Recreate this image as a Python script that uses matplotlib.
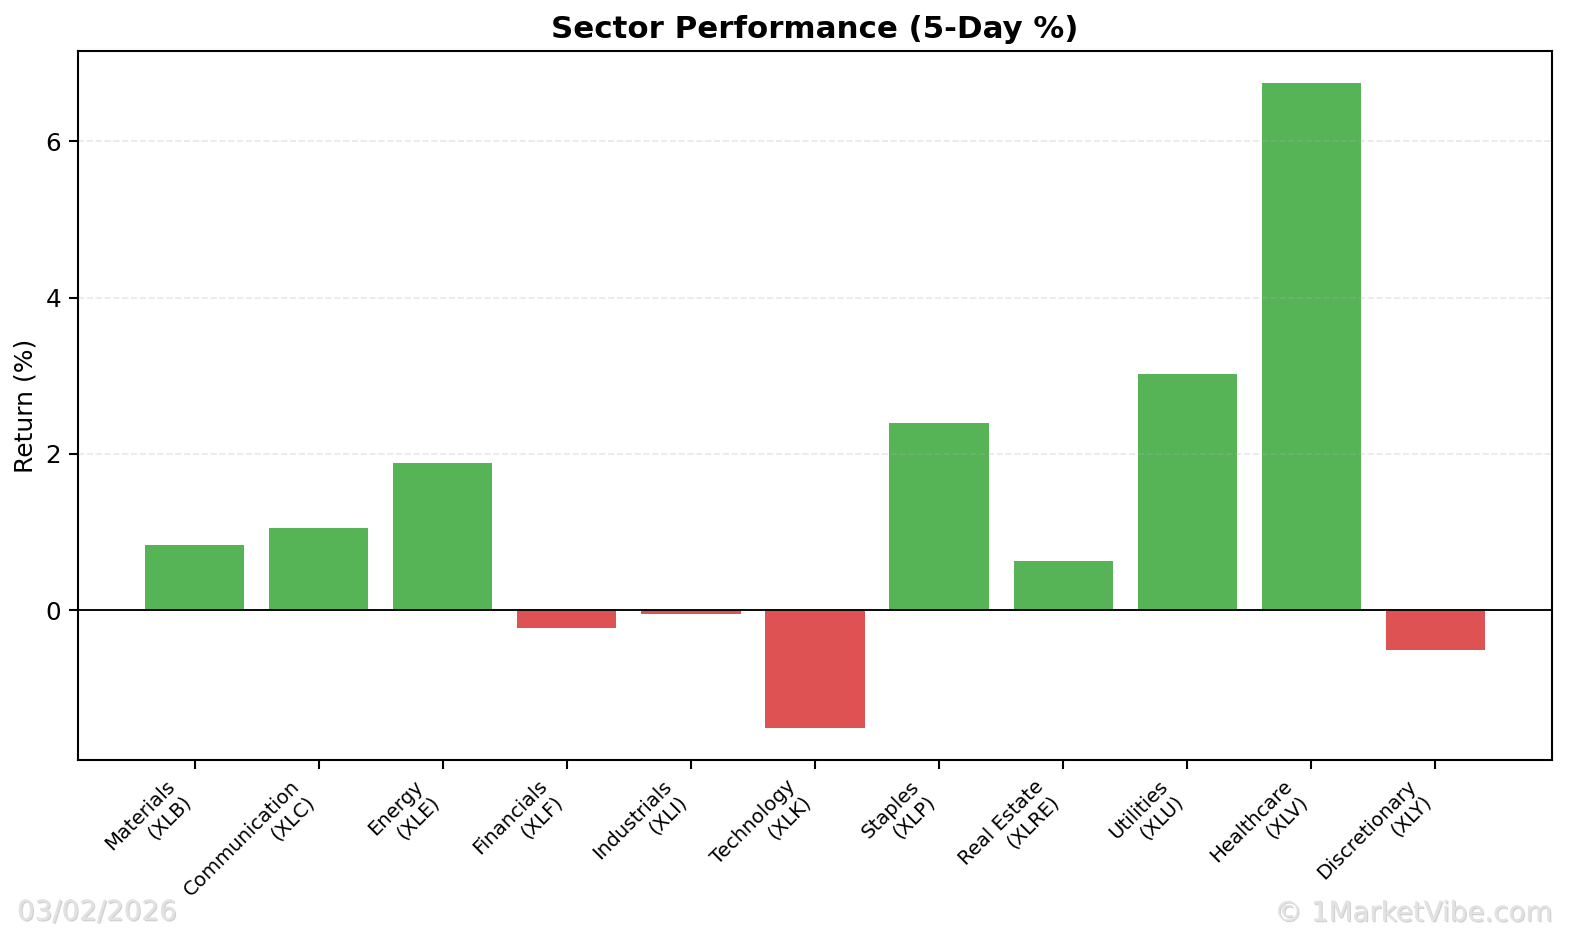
import matplotlib
matplotlib.use("Agg")
import matplotlib.pyplot as plt
import matplotlib.patheffects as pe

sectors = ["Materials\n(XLB)", "Communication\n(XLC)", "Energy\n(XLE)", "Financials\n(XLF)",
           "Industrials\n(XLI)", "Technology\n(XLK)", "Staples\n(XLP)", "Real Estate\n(XLRE)",
           "Utilities\n(XLU)", "Healthcare\n(XLV)", "Discretionary\n(XLY)"]
returns = [0.84, 1.06, 1.89, -0.22, -0.04, -1.50, 2.40, 0.63, 3.02, 6.74, -0.50]

fig = plt.figure(figsize=(10.56, 940 / 150), dpi=150)
ax = fig.add_axes([78 / 1584, 180 / 940, (1552 - 78) / 1584, (760 - 51) / 940])

colors = ["tab:green" if v >= 0 else "tab:red" for v in returns]
x = list(range(len(sectors)))
ax.bar(x, returns, color=colors, alpha=0.8, width=0.8)
ax.axhline(0, color="black", linewidth=0.9)
ax.grid(axis="y", linestyle="--", alpha=0.3)
ax.set_xticks(x)
ax.set_xticklabels(sectors, rotation=45, ha="right", fontsize=9.5)
ax.set_ylabel("Return (%)", fontsize=12)
ax.tick_params(axis="y", labelsize=11.8)
ax.tick_params(length=4.5, width=1)
for s in ax.spines.values():
    s.set_linewidth(1)
ax.set_title("Sector Performance (5-Day %)", fontsize=14.8, fontweight="bold")

effects = [pe.withSimplePatchShadow(offset=(0.6, -0.6), shadow_rgbFace="#9a9a9a", alpha=0.45), pe.Normal()]
fig.text(17 / 1584, 1 - 912 / 940, "03/02/2026", fontsize=13.3, color="#e2e2e2",
         ha="left", va="center", path_effects=effects)
fig.text(1553 / 1584, 1 - 913 / 940, "\u00a9 1MarketVibe.com", fontsize=13.3, color="#e2e2e2",
         ha="right", va="center", path_effects=effects)

fig.savefig("out.png", dpi=150)
